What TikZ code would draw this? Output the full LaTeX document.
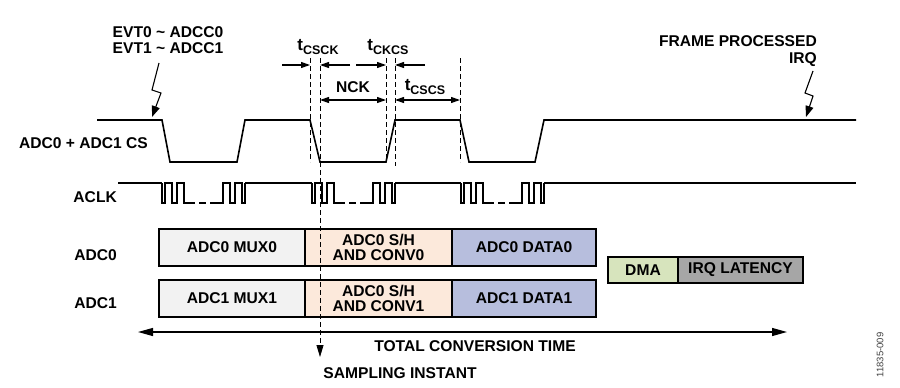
\documentclass[tikz,border=0pt]{standalone}
\usepackage{fontspec}
\setmainfont{Liberation Sans}
\usetikzlibrary{arrows.meta,positioning}

\definecolor{muxgray}{HTML}{F2F2F2}
\definecolor{shpeach}{HTML}{FCE9DB}
\definecolor{datablue}{HTML}{B7BEDD}
\definecolor{dmagreen}{HTML}{D7E4BD}
\definecolor{irqgray}{HTML}{A6A6A6}

\newcommand{\tsub}[1]{{\fontsize{17}{17}\selectfont t}\raisebox{-0.4ex}{\fontsize{12.5}{12.5}\selectfont #1}}

\begin{document}
\begin{tikzpicture}[x=1pt, y=-1pt,
	every node/.style={font=\fontsize{15.6}{15.5}\selectfont\bfseries, inner sep=0pt},
	>={Triangle[length=9pt,width=6pt]},
	sig/.style={line width=1.6pt},
	guide/.style={line width=0.8pt, dash pattern=on 5pt off 3pt},
	dimline/.style={line width=1.1pt},
	bolt/.style={line width=1.1pt, -{Triangle[length=11pt,width=8pt]}},
	seg/.style={draw, line width=1.3pt, outer sep=0pt, minimum height=37pt, align=center},
	smallseg/.style={draw, line width=1.3pt, outer sep=0pt, minimum height=26pt}]
	\useasboundingbox (0,0) rectangle (900,388);

	\node[anchor=east] (cslbl) at (148,143) {ADC0 + ADC1 CS};
	\node[anchor=east] (clklbl) at (117,197) {ACLK};
	\node[anchor=east] (adc0lbl) at (117,255) {ADC0};
	\node[anchor=east] (adc1lbl) at (117,303) {ADC1};

	\node[align=center] (evtlbl) at (168,40) {EVT0 \textasciitilde{} ADCC0\\EVT1 \textasciitilde{} ADCC1};
	\node[align=right, anchor=east] (irqlbl) at (817,51) {FRAME PROCESSED\\[2pt]IRQ};
	\coordinate (evtfire) at (152,117);
	\coordinate (irqfire) at (806,117);
	\draw[bolt] (159,63) -- (152,90) -- (161,93) -- (evtfire);
	\draw[bolt] (813,71) -- (805,93) -- (813,96) -- (irqfire);

	% chip select
	\draw[sig] (97,120) -- (162,120) -- (170,162) -- (237,162) -- (245,120) -- (310,120) -- (320,162)
		-- (386,162) -- (395,120) -- (460,120) -- (469,162) -- (535,162) -- (544,120) -- (856,120);

	% clock
	\draw[sig] (118,183) -- (162,183);
	\draw[sig] (245,183) -- (312,183);
	\draw[sig] (395,183) -- (461,183);
	\draw[sig] (544,183) -- (856,183);
	\foreach \bx in {162,312,461} {
		\draw[sig] (\bx,183) -- ++(0,20) -- ++(3,0) -- ++(0,-20) -- ++(7,0) -- ++(0,20) -- ++(5,0) -- ++(0,-20) -- ++(7,0) -- ++(0,20) -- ++(11,0);
		\draw[sig] (\bx+37,203) -- ++(7,0);
		\draw[sig] (\bx+48,203) -- ++(13,0) -- ++(0,-20) -- ++(7,0) -- ++(0,20) -- ++(5,0) -- ++(0,-20) -- ++(7,0) -- ++(0,20) -- ++(3,0) -- ++(0,-20);
	}

	% timing marks
	\coordinate (ta) at (310,58);
	\coordinate (tb) at (320,58);
	\coordinate (tc) at (386,58);
	\coordinate (td) at (395,58);
	\coordinate (te) at (460,58);
	\coordinate (rowa) at (0,65);
	\coordinate (rowb) at (0,100);
	\coordinate (sample) at (320,357);
	\draw[guide] (ta) -- ++(0,104);
	\draw[guide] (tc) -- ++(0,104);
	\draw[guide] (td) -- ++(0,108);
	\draw[guide] (te) -- ++(0,104);

	\draw[dimline, ->] (282,65) -- (ta |- rowa);
	\draw[dimline, ->] (350,65) -- (tb |- rowa);
	\draw[dimline, ->] (356,65) -- (tc |- rowa);
	\draw[dimline, ->] (425,65) -- (td |- rowa);
	\draw[dimline, <->] (tb |- rowb) -- (tc |- rowb);
	\draw[dimline, <->] (td |- rowb) -- (te |- rowb);
	\node (tcsck) at (318,47) {\tsub{CSCK}};
	\node (tckcs) at (388,47) {\tsub{CKCS}};
	\node (nck) at (353,87) {NCK};
	\node (tcscs) at (425,87) {\tsub{CSCS}};

	% conversion phases
	\node[seg, fill=muxgray, minimum width=146pt, anchor=north west] (mux0) at (159,229) {ADC0 MUX0};
	\node[seg, fill=shpeach, minimum width=147pt, right=0pt of mux0] (conv0) {ADC0 S/H\\AND CONV0};
	\node[seg, fill=datablue, minimum width=144pt, right=0pt of conv0] (data0) {ADC0 DATA0};
	\node[seg, fill=muxgray, minimum width=146pt, anchor=north west] (mux1) at (159,280) {ADC1 MUX1};
	\node[seg, fill=shpeach, minimum width=147pt, right=0pt of mux1] (conv1) {ADC0 S/H\\AND CONV1};
	\node[seg, fill=datablue, minimum width=144pt, right=0pt of conv1] (data1) {ADC1 DATA1};
	\node[smallseg, fill=dmagreen, minimum width=70pt, anchor=north west] (dma) at (608,257) {DMA};
	\node[smallseg, fill=irqgray, minimum width=125pt, right=0pt of dma] (irqlat) {IRQ LATENCY};
	\draw[guide, -{Triangle[length=12pt,width=7pt]}] (tb) -- (sample);

	\coordinate (convstart) at (138,332);
	\coordinate (convend) at (787,332);
	\draw[line width=1.2pt, {Triangle[length=15pt,width=8pt]}-{Triangle[length=15pt,width=8pt]}] (convstart) -- (convend);
	\node (totlbl) at (475,346) {TOTAL CONVERSION TIME};
	\node (samplbl) at (400,373) {SAMPLING INSTANT};
	\node[rotate=90, font=\fontsize{9.5}{9.5}\selectfont, text=black!75] (fignum) at (880,355) {11835-009};
\end{tikzpicture}
\end{document}
